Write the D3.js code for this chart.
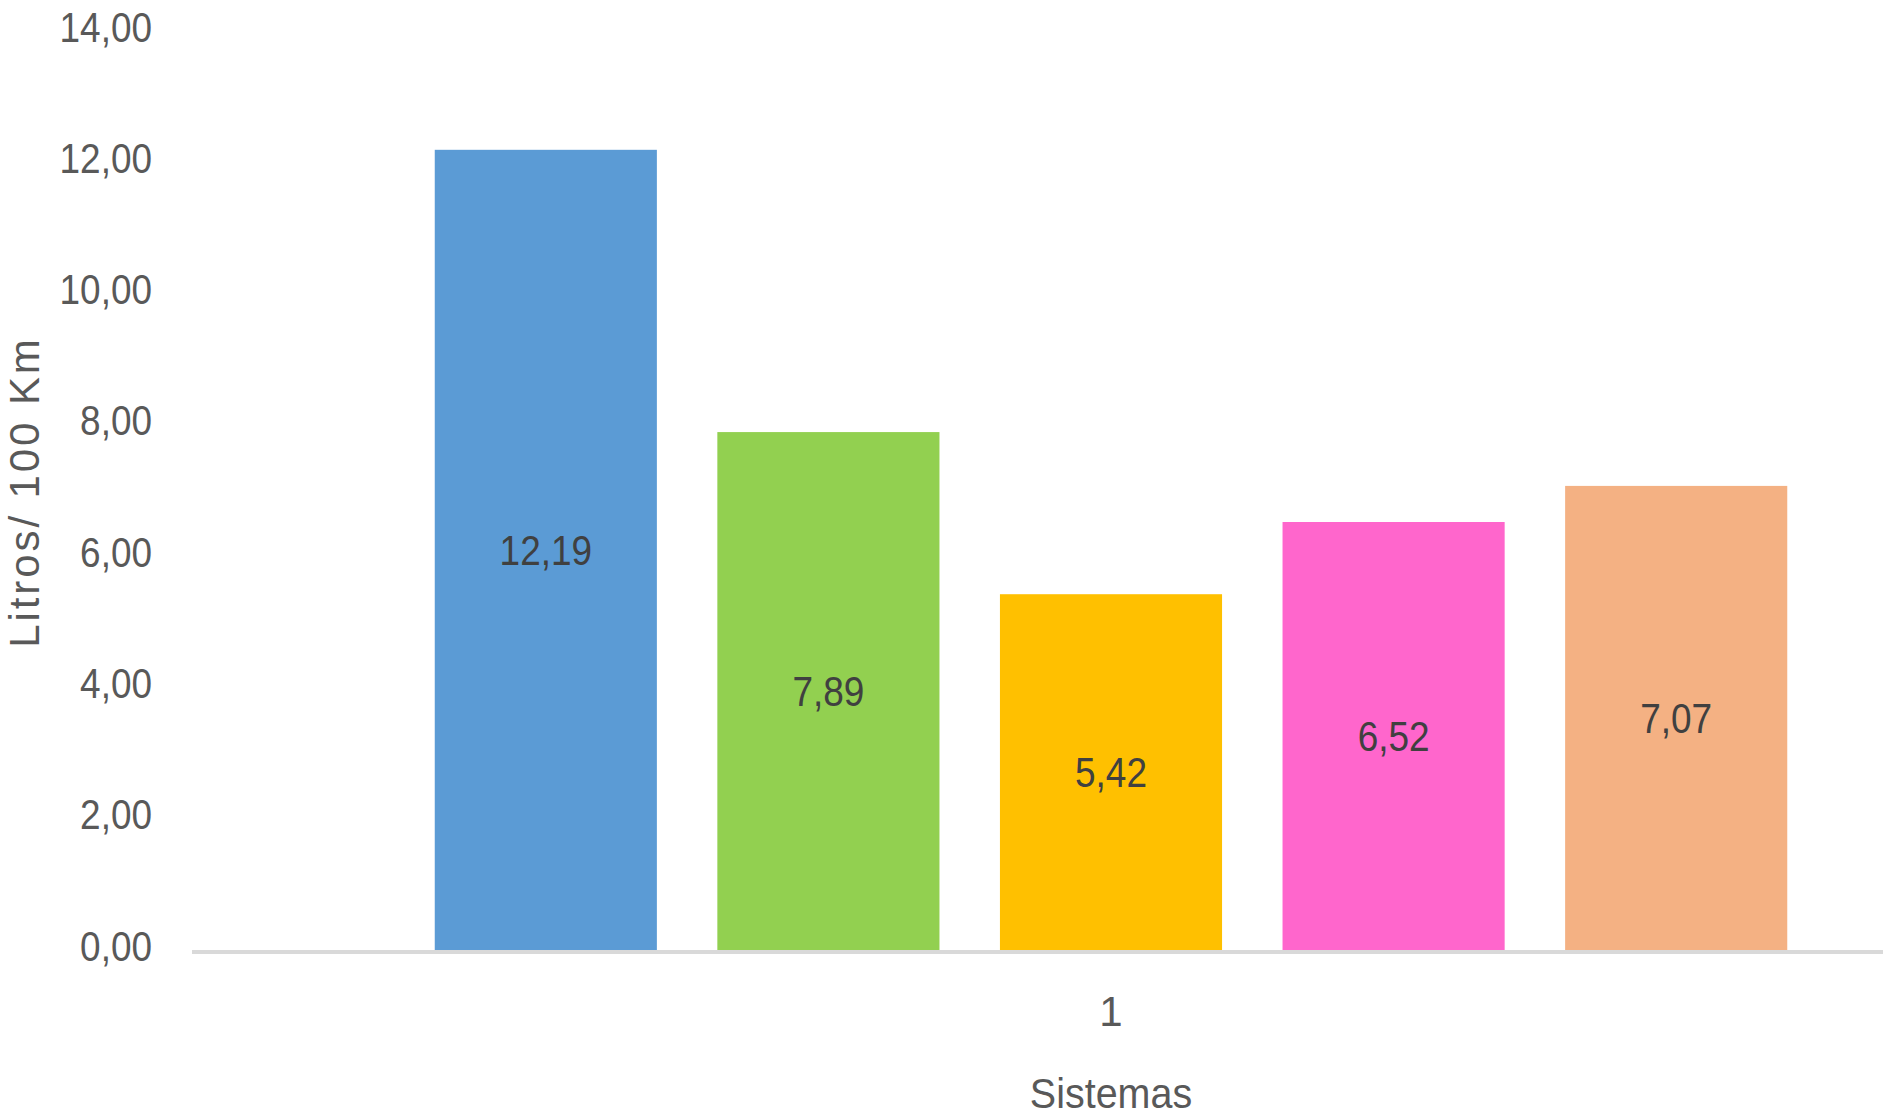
<!DOCTYPE html>
<html>
<head>
<meta charset="utf-8">
<script src="https://cdn.jsdelivr.net/npm/d3@7"></script>
<style>
  html, body { margin: 0; padding: 0; background: #ffffff; overflow: hidden; }
  svg text { font-family: "Liberation Sans", Arial, sans-serif; }
</style>
</head>
<body>
<svg id="chart" width="1883" height="1117"></svg>
<script>
// Consumo medio por sistema (litros cada 100 km)
const categories = ["1"];
const series = ["S1", "S2", "S3", "S4", "S5"];
const values = [12.19, 7.89, 5.42, 6.52, 7.07];
const colors = ["#5B9BD5", "#92D050", "#FFC000", "#FF66CC", "#F4B183"];
const yTicks = [0, 2, 4, 6, 8, 10, 12, 14];
const yTitle = "Litros/ 100 Km";
const xTitle = "Sistemas";

const svg = d3.select("#chart");

const plot = { left: 192, right: 2030, top: 31, bottom: 950 };
const NARROW = 0.88;   // horizontal squeeze for a Calibri-like narrow look

const locale = d3.formatLocale({ decimal: ",", thousands: ".", grouping: [3], currency: ["", " €"] });
const fmt = locale.format(".2f");

const y = d3.scaleLinear().domain([0, 14]).range([plot.bottom, plot.top]);

const x0 = d3.scaleBand()
  .domain(categories)
  .range([plot.left, plot.right])
  .paddingInner(0)
  .paddingOuter(0.1504);

const x1 = d3.scaleBand()
  .domain(series)
  .range([0, x0.bandwidth()])
  .paddingInner(0.214)
  .paddingOuter(0.107);

// bars and value labels
const g = svg.append("g");
categories.forEach(cat => {
  const cg = g.append("g").attr("transform", `translate(${x0(cat)},0)`);
  const rows = series.map((s, i) => ({ s, v: values[i], c: colors[i] }));

  cg.selectAll("rect")
    .data(rows)
    .join("rect")
    .attr("x", d => x1(d.s))
    .attr("y", d => y(d.v))
    .attr("width", x1.bandwidth())
    .attr("height", d => y(0) - y(d.v))
    .attr("fill", d => d.c);

  cg.selectAll("text.val")
    .data(rows)
    .join("text")
    .attr("class", "val")
    .attr("transform", d => `translate(${x1(d.s) + x1.bandwidth() / 2},${(y(d.v) + y(0)) / 2}) scale(${NARROW},1)`)
    .attr("dy", "0.36em")
    .attr("text-anchor", "middle")
    .attr("font-size", 42)
    .attr("fill", "#404040")
    .text(d => fmt(d.v));
});

// baseline
svg.append("line")
  .attr("x1", plot.left).attr("x2", plot.right)
  .attr("y1", y(0) + 2).attr("y2", y(0) + 2)
  .attr("stroke", "#D9D9D9").attr("stroke-width", 4);

// y axis labels
const pad = 40;
const yAxis = d3.axisLeft(y).tickValues(yTicks).tickFormat(fmt).tickSize(0).tickPadding(pad);
const ya = svg.append("g").attr("transform", `translate(${plot.left},0)`).call(yAxis);
ya.select(".domain").remove();
ya.attr("font-family", null).attr("font-size", null);
ya.selectAll("text")
  .attr("font-size", 42)
  .attr("fill", "#595959")
  .attr("x", -pad / NARROW)
  .attr("dy", "0.24em")
  .attr("transform", `scale(${NARROW},1)`);

// category axis label
const xAxis = d3.axisBottom(x0).tickSize(0).tickPadding(0);
const xa = svg.append("g").attr("transform", `translate(0,${plot.bottom})`).call(xAxis);
xa.select(".domain").remove();
xa.attr("font-family", null).attr("font-size", null);
xa.selectAll("text")
  .attr("y", 61)
  .attr("dy", "0.36em")
  .attr("font-size", 42)
  .attr("fill", "#595959");

// axis titles
svg.append("text")
  .attr("transform", `translate(${(plot.left + plot.right) / 2},1093) scale(0.94,1)`)
  .attr("dy", "0.36em")
  .attr("text-anchor", "middle")
  .attr("font-size", 42)
  .attr("fill", "#595959")
  .text(xTitle);

svg.append("text")
  .attr("transform", `translate(39,492) rotate(-90)`)
  .attr("text-anchor", "middle")
  .attr("font-size", 42)
  .attr("letter-spacing", 2.9)
  .attr("fill", "#595959")
  .text(yTitle);
</script>
</body>
</html>
